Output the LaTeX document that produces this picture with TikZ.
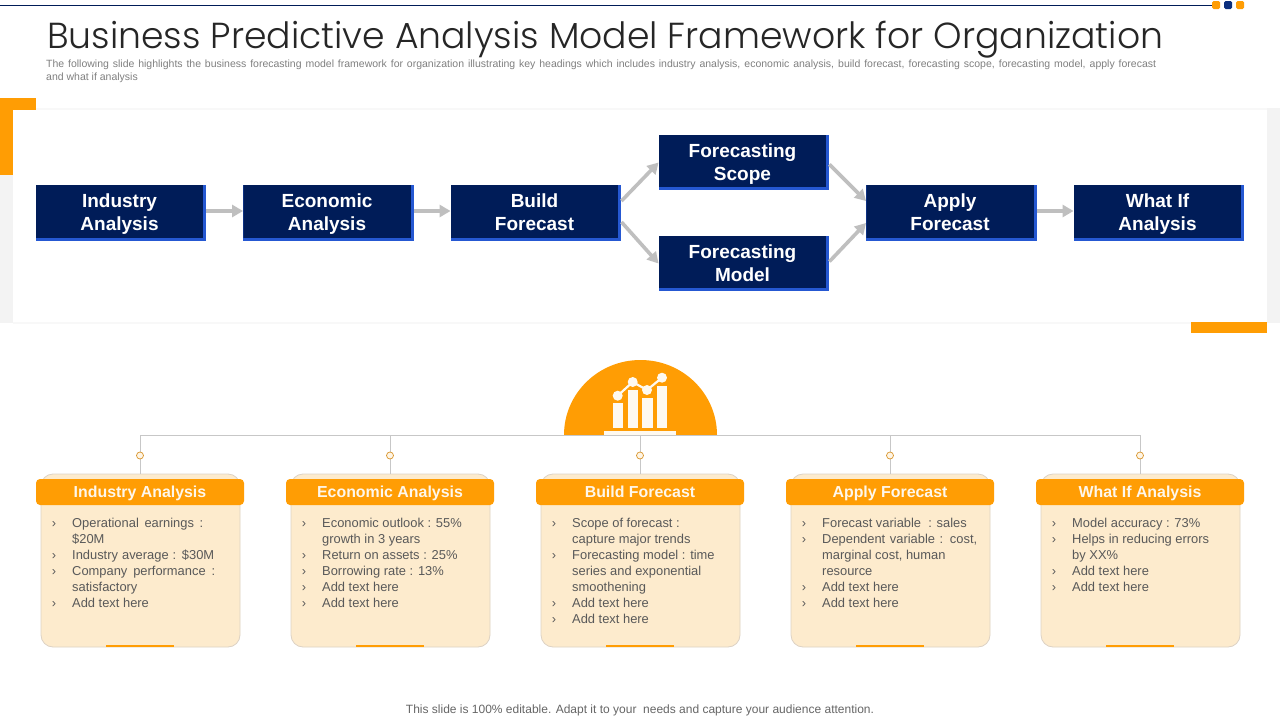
\documentclass[tikz,border=0pt]{standalone}
\usepackage{fontspec}
\setmainfont{Liberation Sans}
\newfontfamily\titlefont{Poppins Light}
\usetikzlibrary{calc,arrows.meta}
\definecolor{navy}{HTML}{001C58}
\definecolor{edgeblue}{HTML}{2558D2}
\definecolor{amber}{HTML}{FF9D04}
\definecolor{cream}{HTML}{FDEBCD}
\definecolor{arrowgray}{HTML}{BFBFBF}
\definecolor{panelgray}{HTML}{F3F3F3}
\definecolor{bodytxt}{HTML}{595959}
\definecolor{cardedge}{HTML}{DDD2C4}
\newcommand{\boxlabel}[2]{\makebox[170pt][l]{\parbox[c]{167pt}{\vspace*{3pt}\centering\fontsize{19}{23}\bfseries\selectfont\vphantom{Ay}#1\\\vphantom{Ay}#2}}}
\newcommand{\bul}{\makebox[0pt][r]{›\hspace{16pt}}}
\newcommand{\jl}[2]{\makebox[#1pt][s]{#2}}
\tikzset{
  x=1pt,y=-1pt,
  darkbox/.style={rectangle,fill=edgeblue,inner sep=0pt,minimum width=170.5pt,minimum height=55.5pt,text=white,
    path picture={\fill[navy] (path picture bounding box.north west) rectangle ([xshift=-3pt,yshift=3pt]path picture bounding box.south east);}},
  flow/.style={draw=arrowgray,line width=3.6pt,-{Triangle[length=11pt,width=12pt]}},
  cardbody/.style={rectangle,rounded corners=12pt,fill=cream,draw=cardedge,line width=.8pt,minimum width=199pt,minimum height=173pt,inner sep=0pt},
  cardhead/.style={rectangle,rounded corners=4pt,fill=amber,minimum width=208pt,minimum height=26pt,inner sep=0pt,text=cream!40!white,text height=13.5pt,text depth=3.5pt,font=\fontsize{15.9}{18}\bfseries\selectfont},
  cardtext/.style={anchor=north west,inner sep=0pt,align=left,text=bodytxt,font=\fontsize{12.9}{16}\selectfont},
  wire/.style={draw=black!22,line width=.8pt},
  knob/.style={circle,draw=amber!70!gray,fill=cream!50!white,line width=.7pt,inner sep=0pt,minimum size=7pt},
  accent/.style={rectangle,fill=amber,inner sep=0pt,minimum width=68pt,minimum height=2pt},
  dotmark/.style={rectangle,rounded corners=1.5pt,inner sep=0pt,minimum size=8pt},
  iconpart/.style={fill=cream!30!white},
}
\begin{document}
\begin{tikzpicture}
\useasboundingbox (0,0) rectangle (1280,720);
\fill[white] (0,0) rectangle (1280,720);
% top rule and marks
\coordinate (ruleL) at (0,5);
\node[dotmark,fill=amber] (m1) at (1216,5) {};
\node[dotmark,fill=navy!70!edgeblue] (m2) at (1228,5) {};
\node[dotmark,fill=amber] (m3) at (1240,5) {};
\draw[navy,line width=1pt] (ruleL) -- (m1.west);
% title
\node[anchor=base west,inner sep=0pt,text=black!85] (title) at (47,48.5) {\resizebox{1116pt}{!}{\titlefont\fontsize{38}{44}\selectfont Business Predictive Analysis Model Framework for Organization}};
\node[anchor=north west,inner sep=0pt,align=left,text=black!50,font=\fontsize{10.5}{13.6}\selectfont] (sub) at (46,59.5) {\jl{1110}{The following slide highlights the business forecasting model framework for organization illustrating key headings which includes industry analysis, economic analysis, build forecast, forecasting scope, forecasting model, apply forecast}\\and what if analysis};
% panel
\fill[panelgray] (0,110) rectangle (13,323);
\fill[panelgray!60!white] (13,322) rectangle (1267,324);
\fill[panelgray] (1267,108) rectangle (1280,323);
\fill[panelgray!60!white] (13,108) rectangle (1267,110);
\fill[amber] (0,98) rectangle (36,110);
\fill[amber] (0,98) rectangle (13,175);
\fill[amber] (1191,322) rectangle (1267,333);
% flow boxes
\node[darkbox] (ia) at (121,213) {\boxlabel{Industry}{Analysis}};
\node[darkbox] (ea) at (328.5,213) {\boxlabel{Economic}{Analysis}};
\node[darkbox] (bf) at (536,213) {\boxlabel{Build}{Forecast}};
\node[darkbox] (fs) at (744,162.5) {\boxlabel{Forecasting}{Scope}};
\node[darkbox] (fm) at (744,263.5) {\boxlabel{Forecasting}{Model}};
\node[darkbox] (af) at (951.5,213) {\boxlabel{Apply}{Forecast}};
\node[darkbox] (wi) at (1159,213) {\boxlabel{What If}{Analysis}};
\draw[flow] ($(ia.east)+(0,-2)$) -- ($(ea.west)+(0,-2)$);
\draw[flow] ($(ea.east)+(0,-2)$) -- ($(bf.west)+(0,-2)$);
\draw[flow] ($(bf.east)+(0,-12)$) -- (fs.west);
\draw[flow] ($(bf.east)+(0,9)$) -- (fm.west);
\draw[flow] ($(fs.east)+(0,2)$) -- ($(af.west)+(0,-12)$);
\draw[flow] ($(fm.east)+(0,-2)$) -- ($(af.west)+(0,10)$);
\draw[flow] ($(af.east)+(0,-2)$) -- ($(wi.west)+(0,-2)$);
% dome
\fill[amber] (564,435) arc[start angle=180,end angle=0,x radius=76.5pt,y radius=75pt] -- cycle;
\foreach \xa/\ya/\ha in {612.7/403/25,627.7/390/38,642.3/398/30,657/386/42}{\fill[iconpart] (\xa,\ya) rectangle ++(10.3,\ha);}
\fill[iconpart] (604,431) rectangle (676,434.5);
\draw[draw=cream!30!white,line width=2.2pt] (617.7,395.7) -- (632.7,382) -- (647,390) -- (662,377.7);
\foreach \xa/\ya in {617.7/395.7,632.7/382,647/390,662/377.7}{\fill[iconpart] (\xa,\ya) circle[radius=5pt];}
% wires & cards
\coordinate (trunkL) at (140,435);
\coordinate (trunkR) at (1140,435);
\foreach \n/\cx/\ttl in {1/140/Industry Analysis,2/390/Economic Analysis,3/640/Build Forecast,4/890/Apply Forecast,5/1140/What If Analysis}{
  \coordinate (tap\n) at (\cx,435);
  \node[cardbody] (body\n) at (\cx.5,560.5) {};
  \draw[wire] (tap\n) -- (body\n.north -| tap\n);
  \node[knob] (knob\n) at (\cx,455.5) {};
  \node[cardhead] (head\n) at (\cx,492) {\ttl};
  \node[accent] (acc\n) at (\cx,646) {};
}
\draw[wire] (trunkL) -- (trunkR);
% card text
\node[cardtext] (t1) at (72,517.5) {\bul\jl{131}{Operational earnings :}\\\$20M\\\bul\jl{142}{Industry average : \$30M}\\\bul\jl{143}{Company performance :}\\satisfactory\\\bul Add text here};
\node[cardtext] (t2) at (322,517.5) {\bul Economic outlook : 55\%\\growth in 3 years\\\bul Return on assets : 25\%\\\bul Borrowing rate : 13\%\\\bul Add text here\\\bul Add text here};
\node[cardtext] (t3) at (572,517.5) {\bul Scope of forecast :\\capture major trends\\\bul Forecasting model : time\\series and exponential\\smoothening\\\bul Add text here\\\bul Add text here};
\node[cardtext] (t4) at (822,517.5) {\bul Forecast variable\ \ : sales\\\bul \jl{155}{Dependent variable : cost,}\\marginal cost, human\\resource\\\bul Add text here\\\bul Add text here};
\node[cardtext] (t5) at (1072,517.5) {\bul Model accuracy : 73\%\\\bul Helps in reducing errors\\by XX\%\\\bul Add text here\\\bul Add text here};
% footer
\node[inner sep=0pt,text=black!60,font=\fontsize{12}{14}\selectfont] (foot) at (640,710) {This slide is 100\% editable. Adapt it to your\ \ needs and capture your audience attention.};
\end{tikzpicture}
\end{document}
